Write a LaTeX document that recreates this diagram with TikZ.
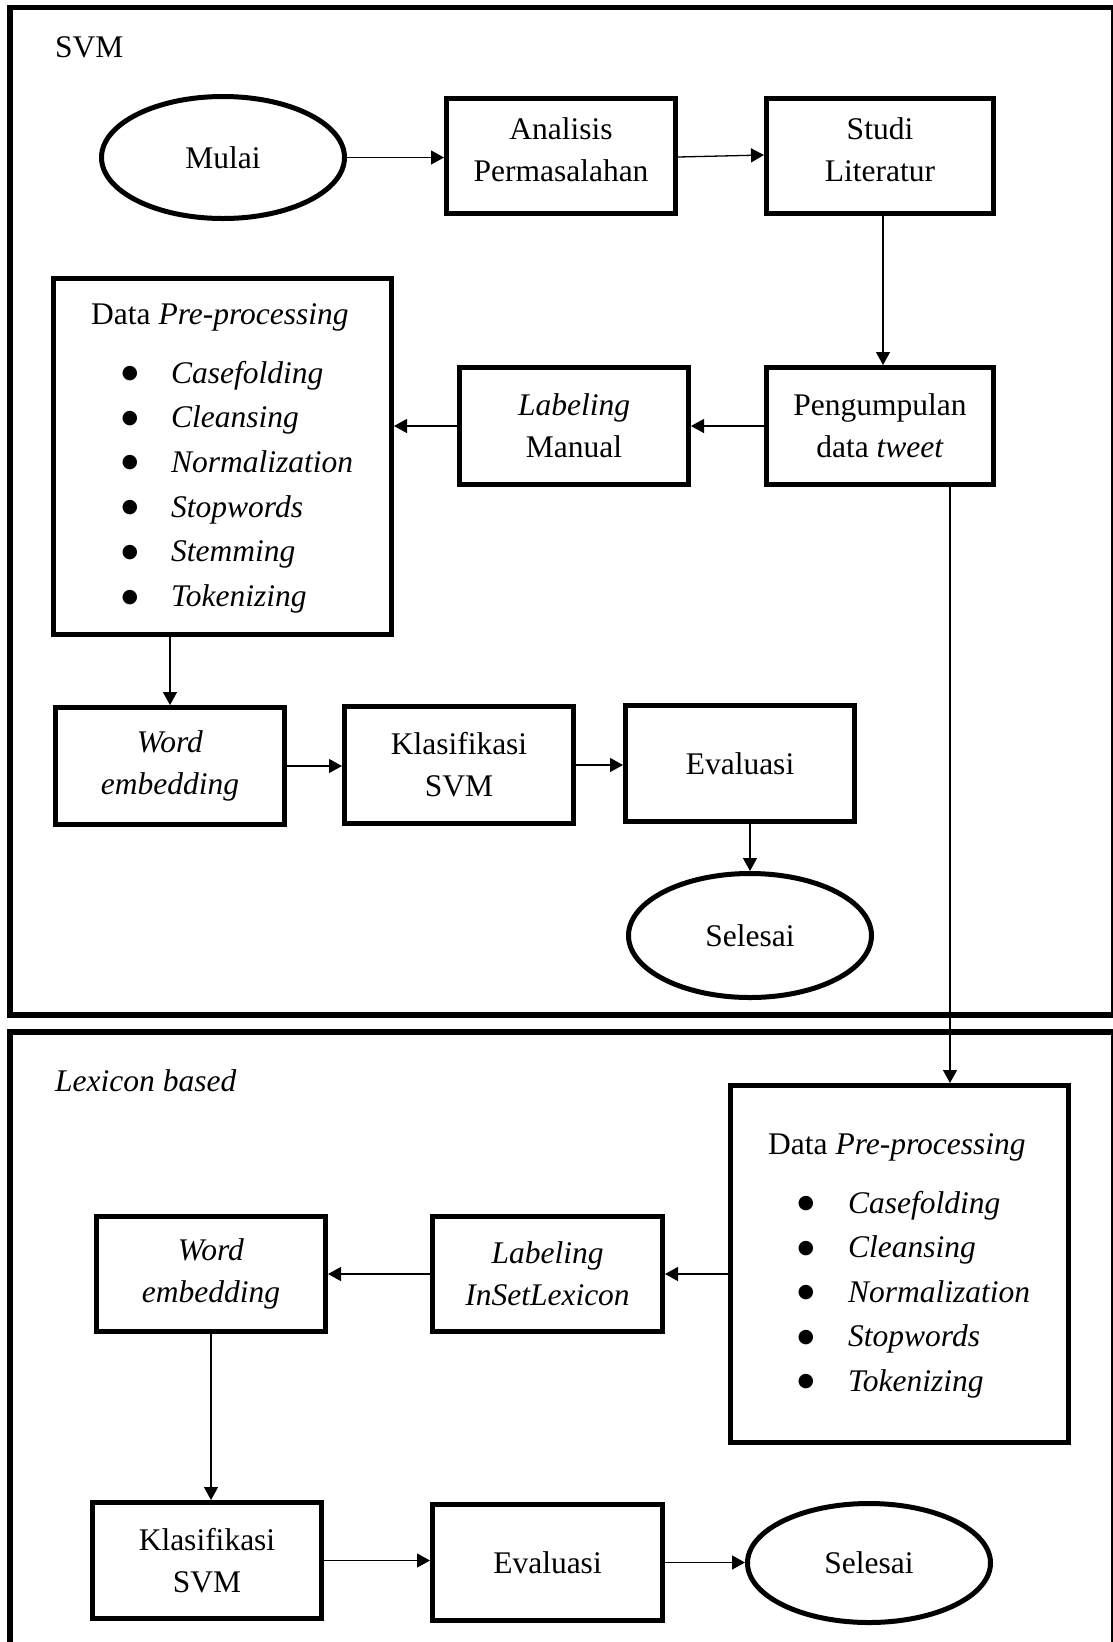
\documentclass[tikz,border=0pt]{standalone}
\usepackage{fontspec}
\setmainfont{Liberation Serif}
\newfontfamily\dejavu{DejaVu Sans}
\usetikzlibrary{shapes.geometric,arrows.meta,calc}
\begin{document}
\begin{tikzpicture}[x=1pt,y=-1pt,
  every node/.style={font=\fontsize{31.5}{42}\selectfont, inner sep=0pt},
  box/.style={draw, line width=5pt, rectangle, align=center, minimum width=229pt, minimum height=116pt},
  oval/.style={draw, line width=5pt, ellipse, minimum width=243pt, minimum height=122pt},
  arr/.style={line width=1.3pt, -{Triangle[length=13pt,width=14pt]}},
  frame/.style={line width=5.5pt},
  bul/.style={anchor=base, yshift=4.5pt, font=\dejavu\fontsize{19}{19}\selectfont},
  itm/.style={anchor=base west}]
\useasboundingbox (0,0) rectangle (1112,1642);

% containers
\draw[frame] (10,7.5) rectangle (1113.5,1015);
\draw[frame] (10,1032) rectangle (1113.5,1650);

\node[anchor=base west] (svmlab) at (55,57) {SVM};
\node[anchor=base west] (lexlab) at (55,1091) {\textit{Lexicon based}};

% ---- SVM part ----
\node[oval] (mulai) at (223,157.5) {Mulai};
\node[box, minimum height=115pt] (anal) at (561,156) {};
\node[align=center] (analt) at (561,150) {Analisis\\Permasalahan};
\node[box, minimum width=227pt, minimum height=115pt] (studi) at (880,156) {};
\node[align=center] (studit) at (880,150) {Studi\\Literatur};
\node[box, minimum width=227pt, minimum height=117pt] (peng) at (880,426) {Pengumpulan\\data \textit{tweet}};
\node[box, minimum height=117pt] (labm) at (574,426) {\textit{Labeling}\\Manual};
\node[draw, line width=5pt, minimum width=338pt, minimum height=356pt] (dpre1) at (222.5,456.5) {};

\node[itm] (h1) at (91,324) {Data \textit{Pre-processing}};
\node[bul] (b1a) at (130,383) {●};
\node[itm] (t1a) at (171,383) {\textit{Casefolding}};
\node[bul] (b1b) at (130,427.7) {●};
\node[itm] (t1b) at (171,427.7) {\textit{Cleansing}};
\node[bul] (b1c) at (130,472.4) {●};
\node[itm] (t1c) at (171,472.4) {\textit{Normalization}};
\node[bul] (b1d) at (130,517.1) {●};
\node[itm] (t1d) at (171,517.1) {\textit{Stopwords}};
\node[bul] (b1e) at (130,561.8) {●};
\node[itm] (t1e) at (171,561.8) {\textit{Stemming}};
\node[bul] (b1f) at (130,606.5) {●};
\node[itm] (t1f) at (171,606.5) {\textit{Tokenizing}};

\node[box, minimum height=117pt] (we1) at (170,766) {\textit{Word}\\\textit{embedding}};
\node[box, minimum height=117pt] (ks1) at (459,765) {Klasifikasi\\SVM};
\node[box] (ev1) at (740,763.5) {Evaluasi};
\node[oval, minimum height=124pt] (sel1) at (750,935.5) {Selesai};

% ---- Lexicon part ----
\node[draw, line width=5pt, minimum width=338pt, minimum height=357pt] (dpre2) at (899.5,1264) {};
\node[itm] (h2) at (768,1154) {Data \textit{Pre-processing}};
\node[bul] (b2a) at (806,1213) {●};
\node[itm] (t2a) at (848,1213) {\textit{Casefolding}};
\node[bul] (b2b) at (806,1257.6) {●};
\node[itm] (t2b) at (848,1257.6) {\textit{Cleansing}};
\node[bul] (b2c) at (806,1302.2) {●};
\node[itm] (t2c) at (848,1302.2) {\textit{Normalization}};
\node[bul] (b2d) at (806,1346.8) {●};
\node[itm] (t2d) at (848,1346.8) {\textit{Stopwords}};
\node[bul] (b2e) at (806,1391.4) {●};
\node[itm] (t2e) at (848,1391.4) {\textit{Tokenizing}};

\node[box, minimum width=230pt, minimum height=115pt] (lab2) at (547.5,1274) {\textit{Labeling}\\\textit{InSetLexicon}};
\node[box, minimum height=115pt] (we2) at (211,1274) {\textit{Word}\\\textit{embedding}};
\node[box] (ks2) at (207,1560.5) {Klasifikasi\\SVM};
\node[box, minimum width=230pt] (ev2) at (547.5,1562.5) {Evaluasi};
\node[oval, minimum height=119pt] (sel2) at (869,1563) {Selesai};

\coordinate (pd) at (950,0);

% ---- connectors ----
\draw[arr] (mulai.east) -- (mulai.east -| anal.west);
\draw[arr] ([yshift=-1pt]anal.east) -- ([yshift=1pt]studi.west);
\draw[arr] ([xshift=3pt]studi.south) -- ([xshift=3pt]peng.north);
\draw[arr] (peng.west) -- (labm.east);
\draw[arr] (labm.west) -- (labm.west -| dpre1.east);
\draw[arr] (we1.north |- dpre1.south) -- (we1.north);
\draw[arr] (we1.east) -- (we1.east -| ks1.west);
\draw[arr] (ks1.east) -- (ks1.east -| ev1.west);
\draw[arr] (sel1.north |- ev1.south) -- (sel1.north);
\draw[arr] (peng.south -| pd) -- (dpre2.north -| pd);
\draw[arr] (lab2.east -| dpre2.west) -- (lab2.east);
\draw[arr] (lab2.west) -- (we2.east);
\draw[arr] (we2.south) -- (we2.south |- ks2.north);
\draw[arr] (ks2.east) -- (ks2.east -| ev2.west);
\draw[arr] (ev2.east) -- (ev2.east -| sel2.west);
\end{tikzpicture}
\end{document}
